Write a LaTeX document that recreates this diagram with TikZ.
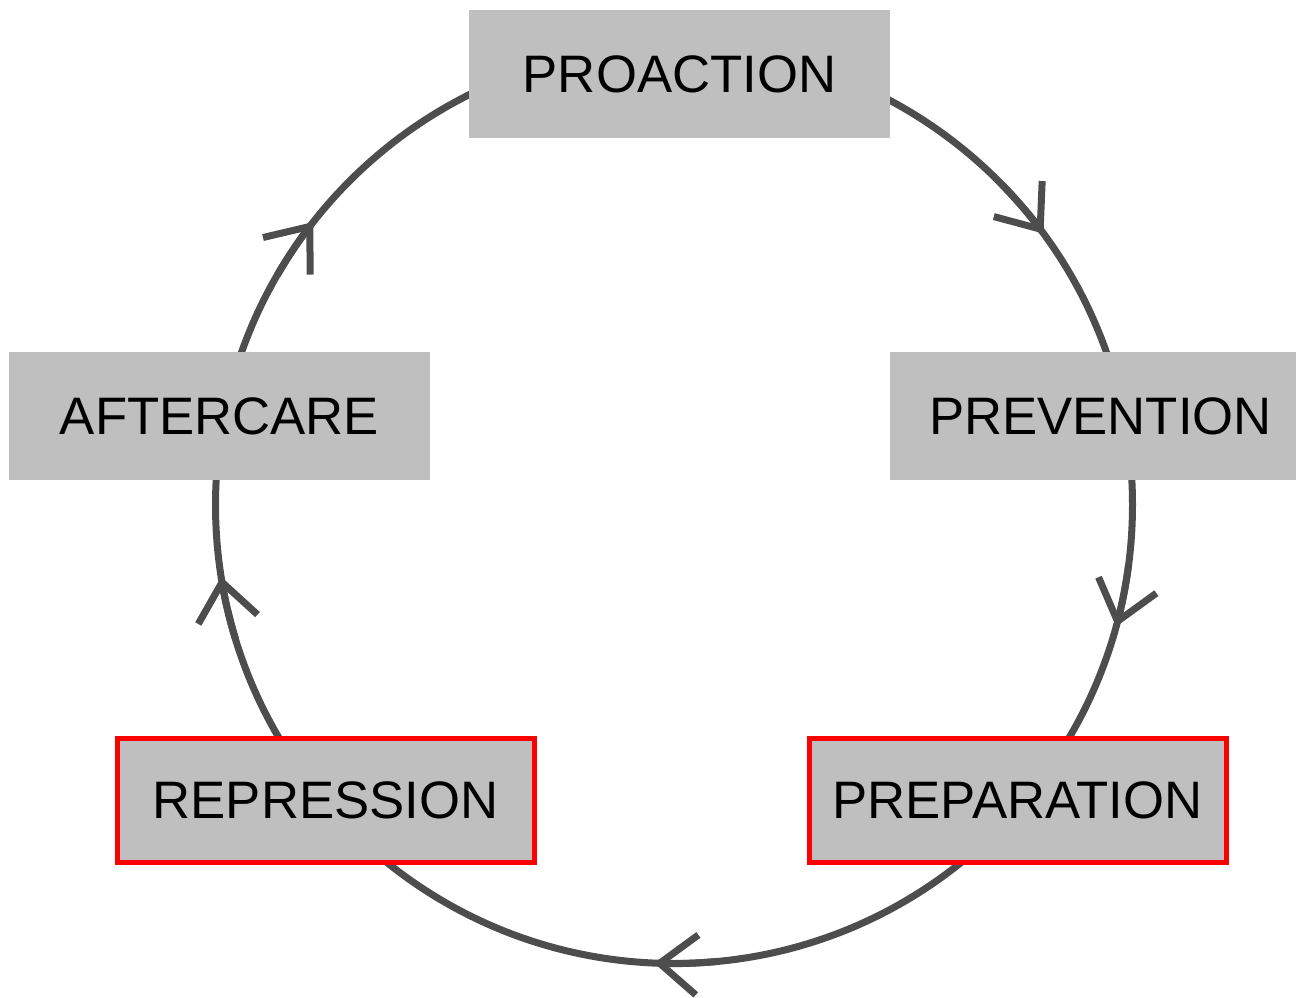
\documentclass[tikz,border=0pt]{standalone}
\usepackage{fontspec}
\setmainfont{Liberation Sans}
\usetikzlibrary{arrows.meta}
\definecolor{ringgray}{HTML}{4D4D4D}
\definecolor{boxgray}{HTML}{BFBFBF}

\begin{document}
\begin{tikzpicture}[every node/.style={font=\fontsize{30}{36}\selectfont, text depth=0pt, inner sep=0pt},
    phase/.style={fill=boxgray, minimum width=8.42cm, minimum height=2.56cm},
    keyphase/.style={fill=boxgray, draw=red, line width=0.1cm, minimum width=8.34cm, minimum height=2.48cm},
    ring/.style={draw=ringgray, line width=0.14cm},
    flow/.style={ring, -{Straight Barb[length=0.75cm, width=1.2cm]}}]
          \useasboundingbox (0,0) rectangle (25.92,19.94);
          \coordinate (c) at (13.48,9.84);
          \draw[ring] (c) circle[radius=9.17];
          \draw[flow] ([shift={(44.3:9.17)}]c) arc[start angle=44.3, end angle=36.3, radius=9.17];
          \draw[flow] ([shift={(-7.4:9.17)}]c) arc[start angle=-7.4, end angle=-15.4, radius=9.17];
          \draw[flow] ([shift={(275.5:9.17)}]c) arc[start angle=275.5, end angle=267.5, radius=9.17];
          \draw[flow] ([shift={(197:9.17)}]c) arc[start angle=197, end angle=189, radius=9.17];
          \draw[flow] ([shift={(149.9:9.17)}]c) arc[start angle=149.9, end angle=141.9, radius=9.17];
          \node[phase] (proaction) at (13.59,18.46) {PROACTION};
          \node[phase] (prevention) at (22.01,11.62) {PREVENTION};
          \node[keyphase] (preparation) at (20.35,3.93) {PREPARATION};
          \node[keyphase] (repression) at (6.51,3.93) {REPRESSION};
          \node[phase] (aftercare) at (4.39,11.62) {AFTERCARE};
        \end{tikzpicture}
\end{document}
